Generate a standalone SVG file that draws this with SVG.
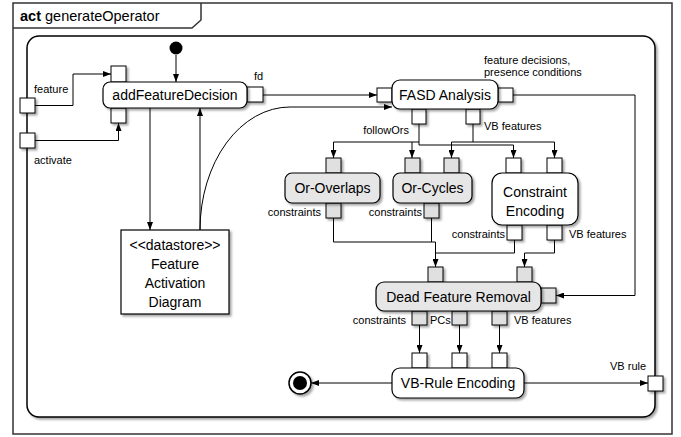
<svg xmlns="http://www.w3.org/2000/svg" width="681" height="437" viewBox="0 0 681 437">
<defs>
<filter id="sh" x="-20%" y="-20%" width="150%" height="150%"><feDropShadow dx="2" dy="2" stdDeviation="1" flood-color="#000" flood-opacity="0.35"/></filter>
<marker id="arr" markerWidth="8" markerHeight="6" refX="8" refY="3" orient="auto" markerUnits="userSpaceOnUse"><path d="M0,0 L8,3 L0,6 z" fill="#000"/></marker>
</defs>
<style>
text{font-family:"Liberation Sans",Arial,sans-serif;fill:#000}
.n{fill:#fff;stroke:#000;stroke-width:1.2;filter:url(#sh)}
.ng{fill:#e6e6e6;stroke:#000;stroke-width:1.2;filter:url(#sh)}
.p{fill:#fff;stroke:#000;stroke-width:1;filter:url(#sh)}
.pg{fill:#e0e0e0;stroke:#000;stroke-width:1;filter:url(#sh)}
.t{font-size:14px;text-anchor:middle}
.l{font-size:11px}
.r{text-anchor:end}
.e{fill:none;stroke:#000;stroke-width:1;marker-end:url(#arr)}
.ln{fill:none;stroke:#000;stroke-width:1}
</style>
<rect x="0" y="0" width="681" height="437" fill="#fff"/>
<g id="frame">
<rect x="13" y="3" width="659" height="431" fill="#fff" stroke="#333" stroke-width="1.5"/>
<path d="M13,28 H192 L201,20 V3" fill="none" stroke="#333" stroke-width="1.5"/>
<text x="20" y="21" font-size="14.5px"><tspan font-weight="bold">act</tspan> generateOperator</text>
<rect x="27" y="36" width="628" height="381" rx="12" fill="#fff" stroke="#000" stroke-width="1.5" filter="url(#sh)"/>
</g>
<g id="connectors">
<path class="e" d="M176,55 V82"/>
<path class="e" d="M35,105.5 H73 V74 H111"/>
<path class="e" d="M35,140.5 H118.5 V123"/>
<path class="e" d="M150,108 V230"/>
<path class="e" d="M200,230 V108"/>
<path class="e" d="M200,230 A90,123 0 0 1 290,107 H392"/>
<path class="e" d="M263,95 H377"/>
<path class="e" d="M513,95 H635 V295.5 H556"/>
<path class="e" d="M419,124 V142 H333.5 V158"/>
<path class="e" d="M412,142 V158"/>
<path class="e" d="M419,142 V145 H513.5 V158"/>
<path class="e" d="M473,124 V142 H451.5 V158"/>
<path class="e" d="M473,142 H554.5 V158"/>
<path class="e" d="M333.5,218 V242 H435.5 V267"/>
<path class="ln" d="M431.5,218 V242"/>
<path class="ln" d="M514.5,240 V253 H435.5"/>
<path class="e" d="M554.5,240 V253 H524.5 V267"/>
<path class="e" d="M419.5,325 V353"/>
<path class="e" d="M459.5,325 V353"/>
<path class="e" d="M499.5,325 V353"/>
<path class="e" d="M392,383 H311"/>
<path class="e" d="M524,383 H648"/>
<text class="l" x="34" y="93">feature</text>
<text class="l" x="34" y="164">activate</text>
<text class="l" x="254" y="80">fd</text>
<text class="l" x="484" y="64">feature decisions,</text>
<text class="l" x="484" y="76">presence conditions</text>
<text class="l r" x="409" y="134">followOrs</text>
<text class="l" x="484" y="130">VB features</text>
<text class="l r" x="321" y="216">constraints</text>
<text class="l r" x="422" y="216">constraints</text>
<text class="l r" x="505" y="238">constraints</text>
<text class="l" x="569" y="238">VB features</text>
<text class="l r" x="406" y="324">constraints</text>
<text class="l" x="430" y="324">PCs</text>
<text class="l" x="514" y="324">VB features</text>
<text class="l" x="610" y="370">VB rule</text>
</g>
<g id="pin-feature"><rect class="p" x="20" y="98" width="15" height="15"/></g>
<g id="pin-activate"><rect class="p" x="20" y="133" width="15" height="15"/></g>
<g id="pin-vbrule"><rect class="p" x="648" y="376" width="15" height="15"/></g>
<g id="initial"><circle cx="176" cy="48" r="6.5" fill="#000"/></g>
<g id="addFeatureDecision">
<rect class="p" x="111" y="66" width="15" height="16"/>
<rect class="p" x="111" y="108" width="15" height="15"/>
<rect class="p" x="247" y="87" width="16" height="15"/>
<rect class="n" x="103" y="82" width="144" height="26" rx="7"/>
<text class="t" x="175" y="100">addFeatureDecision</text>
</g>
<g id="datastore">
<rect class="n" x="121" y="230" width="108" height="84"/>
<text class="t" x="175" y="250">&lt;&lt;datastore&gt;&gt;</text>
<text class="t" x="175" y="269">Feature</text>
<text class="t" x="175" y="288">Activation</text>
<text class="t" x="175" y="307">Diagram</text>
</g>
<g id="fasd">
<rect class="p" x="377" y="88" width="15" height="14"/>
<rect class="p" x="498" y="88" width="15" height="14"/>
<rect class="p" x="412" y="109" width="14" height="15"/>
<rect class="p" x="466" y="109" width="14" height="15"/>
<rect class="n" x="392" y="80" width="106" height="29" rx="8"/>
<text class="t" x="445" y="100">FASD Analysis</text>
</g>
<g id="or-overlaps">
<rect class="pg" x="326" y="158" width="15" height="15"/>
<rect class="pg" x="326" y="203" width="15" height="15"/>
<rect class="ng" x="285" y="173" width="95" height="30" rx="7"/>
<text class="t" x="332.5" y="193">Or-Overlaps</text>
</g>
<g id="or-cycles">
<rect class="pg" x="405" y="158" width="15" height="15"/>
<rect class="pg" x="444" y="158" width="15" height="15"/>
<rect class="pg" x="424" y="203" width="15" height="15"/>
<rect class="ng" x="393" y="173" width="79" height="30" rx="7"/>
<text class="t" x="432.5" y="193">Or-Cycles</text>
</g>
<g id="constraint-encoding">
<rect class="p" x="506" y="158" width="15" height="15"/>
<rect class="p" x="547" y="158" width="15" height="15"/>
<rect class="p" x="507" y="225" width="15" height="15"/>
<rect class="p" x="547" y="225" width="15" height="15"/>
<rect class="n" x="492" y="173" width="86" height="52" rx="10"/>
<text class="t" x="535" y="197">Constraint</text>
<text class="t" x="535" y="216">Encoding</text>
</g>
<g id="dead-feature-removal">
<rect class="pg" x="428" y="267" width="15" height="15"/>
<rect class="pg" x="517" y="267" width="15" height="15"/>
<rect class="pg" x="541" y="288" width="15" height="15"/>
<rect class="pg" x="412" y="311" width="15" height="14"/>
<rect class="pg" x="452" y="311" width="15" height="14"/>
<rect class="pg" x="492" y="311" width="15" height="14"/>
<rect class="ng" x="376" y="282" width="165" height="29" rx="8"/>
<text class="t" x="458.5" y="302">Dead Feature Removal</text>
</g>
<g id="vb-rule-encoding">
<rect class="p" x="412" y="353" width="15" height="15"/>
<rect class="p" x="452" y="353" width="15" height="15"/>
<rect class="p" x="492" y="353" width="15" height="15"/>
<rect class="n" x="392" y="368" width="132" height="30" rx="8"/>
<text class="t" x="458" y="388">VB-Rule Encoding</text>
</g>
<g id="final">
<circle cx="300" cy="383" r="11" fill="#fff" stroke="#000" stroke-width="1.5" filter="url(#sh)"/>
<circle cx="300" cy="383" r="7" fill="#000"/>
</g>
</svg>
